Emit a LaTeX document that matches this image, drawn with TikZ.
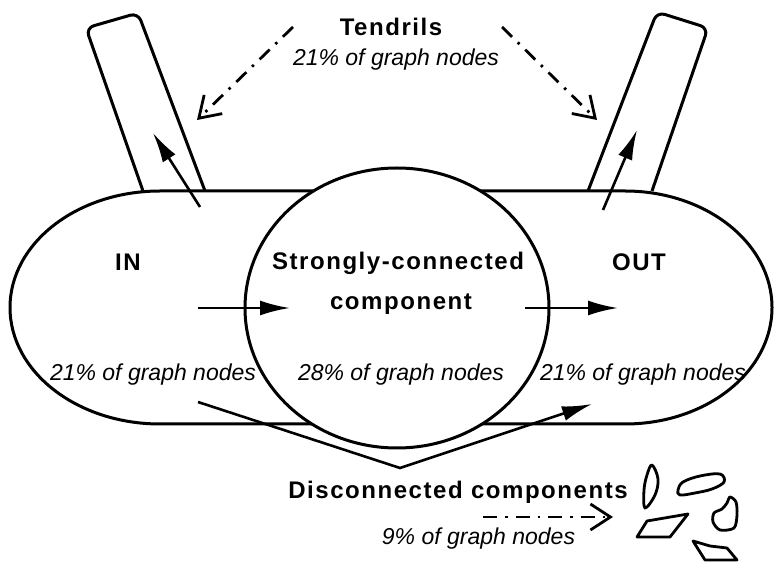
\documentclass[tikz,border=0pt]{standalone}
\usepackage{fontspec}
\setmainfont{Liberation Sans}
\usetikzlibrary{arrows.meta}
\tikzset{
  outline/.style={line width=3pt, line join=round},
  flow/.style={line width=2.6pt, -{Latex[length=30pt,width=15pt]}},
  dashflow/.style={line width=2.8pt, dash pattern=on 14pt off 8pt on 2.5pt off 8pt,
    -{Straight Barb[length=20pt,width=26pt,line width=2.8pt]}},
  title/.style={anchor=base, inner sep=0pt,
    font=\fontsize{24}{28}\selectfont\bfseries\addfontfeature{LetterSpace=6.5}},
  share/.style={anchor=base, inner sep=0pt, font=\fontsize{23}{27}\selectfont\itshape},
  blob/.style={line width=2.8pt, line join=round}
}
\begin{document}
\begin{tikzpicture}[x=1pt,y=1pt]
\useasboundingbox (0,0) rectangle (774,565);

% tendril tubes, standing on the bow tie
\draw[outline, rounded corners=8pt] (143,374) -- (86,537) -- (138,552) -- (205,374);
\draw[outline, rounded corners=8pt] (588,374) -- (657,553) -- (708,537) -- (652,374);

% IN / OUT body
\draw[outline, fill=white] (160,374) -- (625,374)
  arc[start angle=90, end angle=-90, x radius=147, y radius=116.5]
  -- (160,141)
  arc[start angle=270, end angle=90, x radius=150, y radius=116.5] -- cycle;

% strongly-connected core
\draw[outline, fill=white] (397,257) ellipse[x radius=152, y radius=140];

% connector end points
\coordinate (inS) at (198,257);   \coordinate (sccE) at (290,257);
\coordinate (sccS) at (525,257);  \coordinate (outE) at (618,257);
\coordinate (tlS) at (200,358);   \coordinate (tlE) at (153,432);
\coordinate (trS) at (603,355);   \coordinate (trE) at (637,435);
\coordinate (tubeS) at (198,163); \coordinate (tubeM) at (400,97);
\coordinate (tubeE) at (592,161);
\coordinate (tdL) at (293,538);   \coordinate (tdLE) at (197,445);
\coordinate (tdR) at (502,538);   \coordinate (tdRE) at (597,445);
\coordinate (dcS) at (483,48);    \coordinate (dcE) at (613,48);

\draw[flow] (inS) -- (sccE);
\draw[flow] (sccS) -- (outE);
\draw[flow] (tlS) -- (tlE);
\draw[flow] (trS) -- (trE);
\draw[flow, line join=miter] (tubeS) -- (tubeM) -- (tubeE);

\draw[dashflow] (tdL) -- (tdLE);
\draw[dashflow] (tdR) -- (tdRE);
\draw[dashflow] (dcS) -- (dcE);

% labels
\node[title] (tendrils) at (391,529.4) {Tendrils};
\node[share] (tendrilsPct) at (396,499) {21\% of graph nodes};
\node[title] (inLbl) at (128,294.4) {IN};
\node[title] (sccLbl) at (398,295) {Strongly-connected};
\node[title] (sccLbl2) at (401,255) {component};
\node[title] (outLbl) at (639,294.4) {OUT};
\node[share] (inPct) at (153,184) {21\% of graph nodes};
\node[share] (sccPct) at (401,184) {28\% of graph nodes};
\node[share] (outPct) at (643,184) {21\% of graph nodes};
\node[title] (dcLbl) at (458,66.4) {Disconnected components};
\node[share] (dcPct) at (478.5,20) {9\% of graph nodes};

% small disconnected pieces
\draw[blob] plot[smooth cycle, tension=0.6] coordinates
  {(652,100) (658,86) (655,70) (645,57) (644,75) (647,90)};
\draw[blob] plot[smooth cycle, tension=0.6] coordinates
  {(678,75) (683,83) (700,89) (720,91) (724,83) (712,76) (695,72) (680,70)};
\draw[blob] plot[smooth cycle, tension=0.5] coordinates
  {(730,68) (736,63) (737,50) (734,37) (720,35) (713,43) (714,52) (722,56) (727,62)};
\draw[blob] (637,28) -- (647,44) -- (688,51) -- (670,28) -- cycle;
\draw[blob] (693,24) -- (705,5) -- (737,5) -- (727,17) -- (710,19) -- cycle;
\end{tikzpicture}
\end{document}
